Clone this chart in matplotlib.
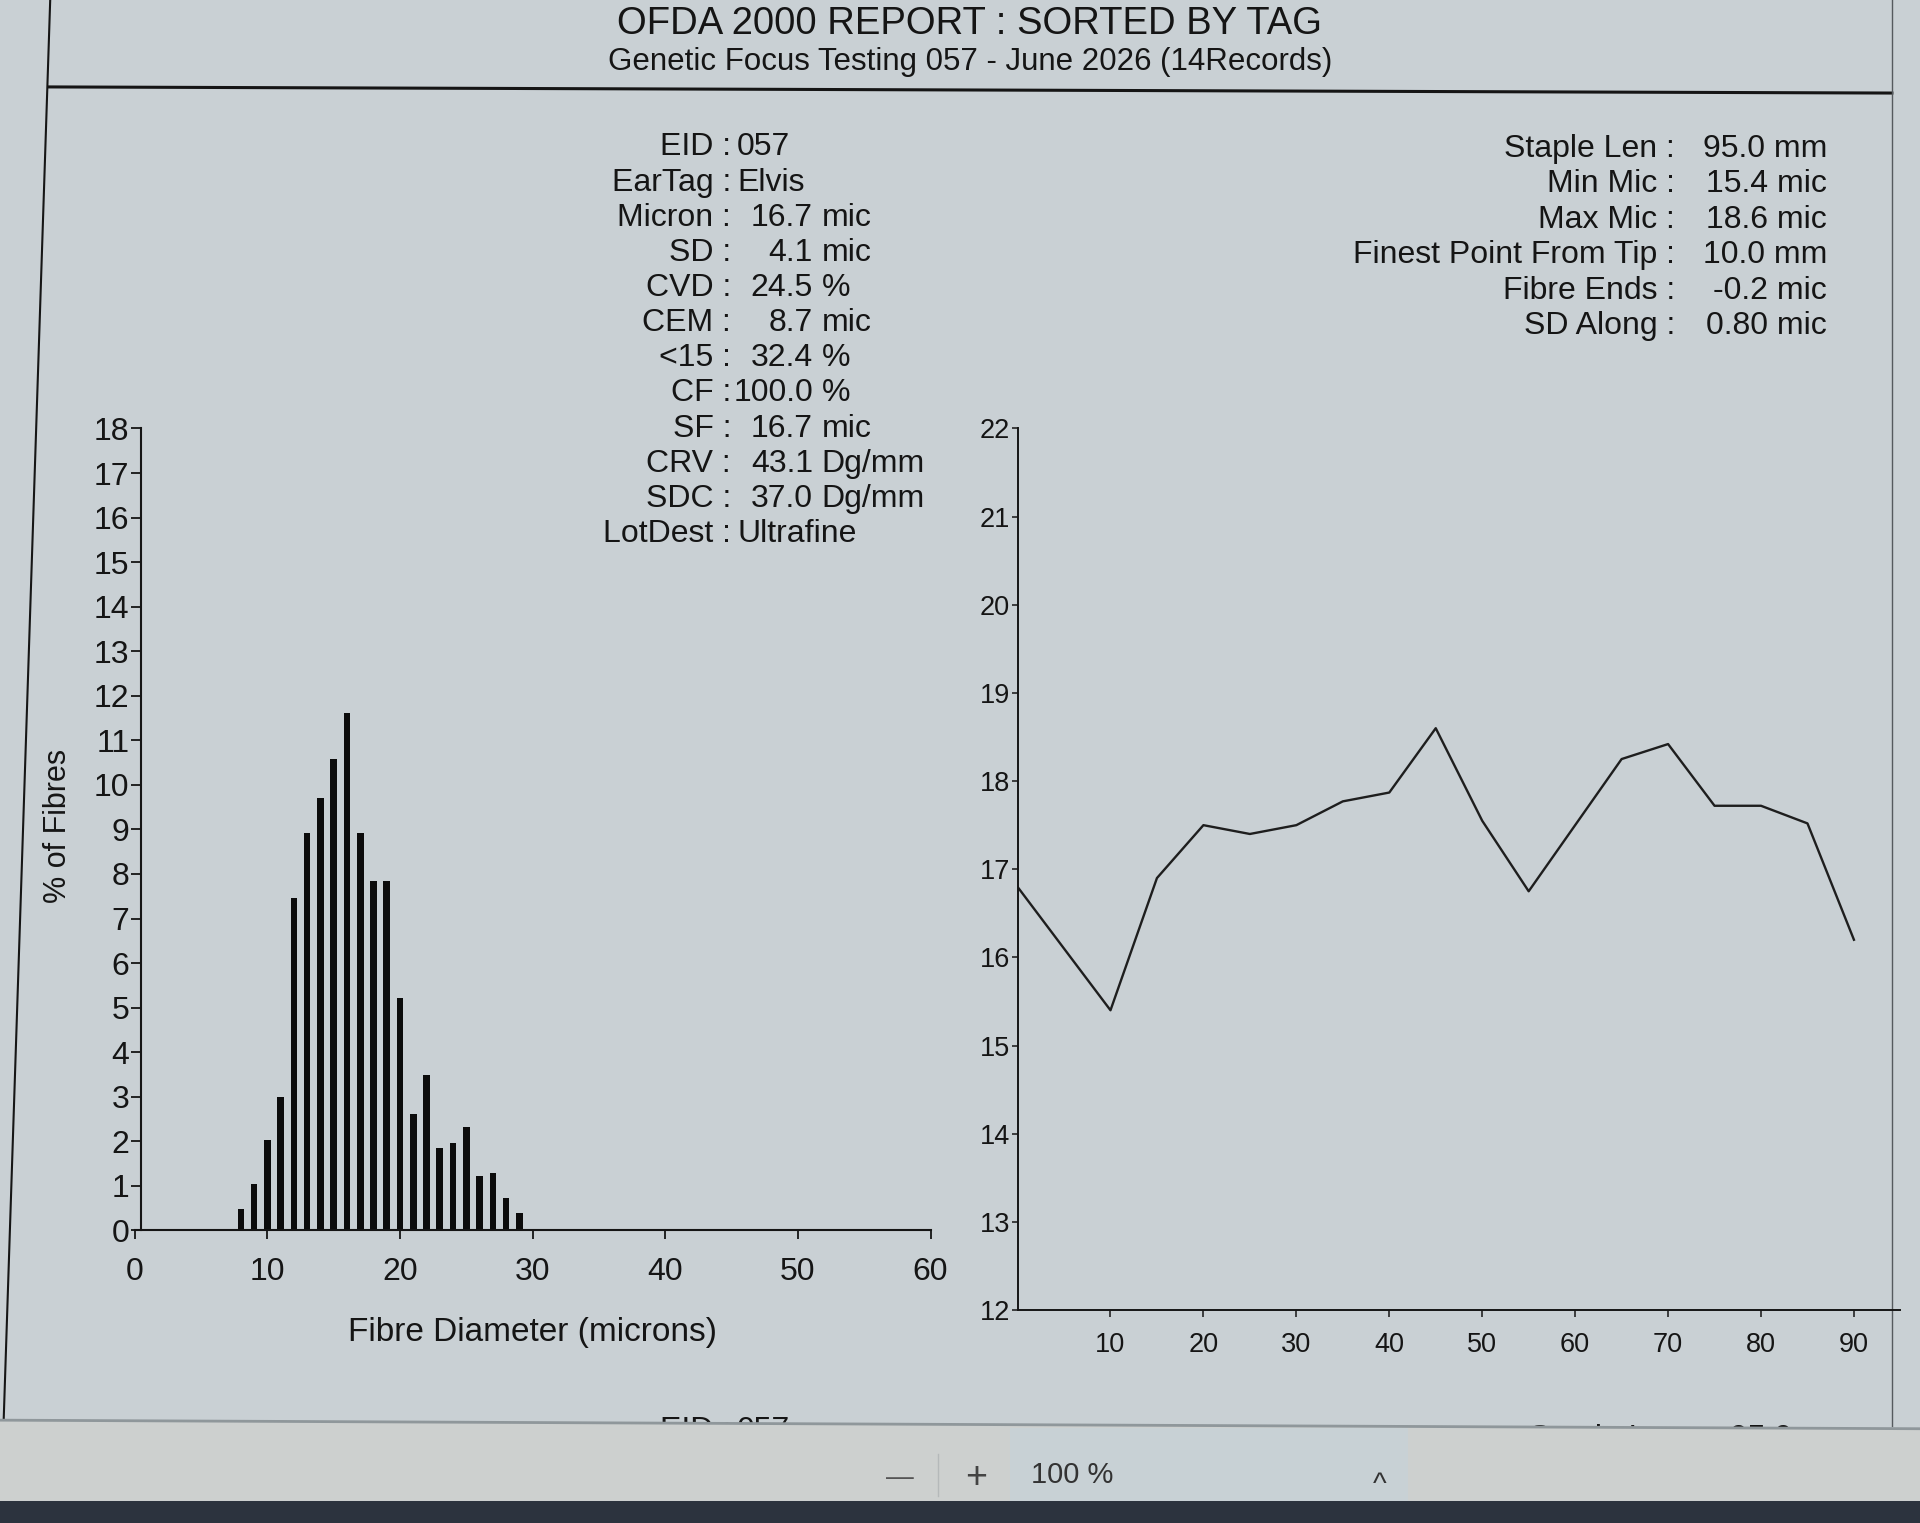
import matplotlib
matplotlib.use("Agg")
import matplotlib.pyplot as plt
from matplotlib.patches import Polygon, Rectangle

plt.rcParams['font.family'] = ['Liberation Sans', 'DejaVu Sans']

# fibre diameter histogram (microns -> % of fibres)
diam = [8, 9, 10, 11, 12, 13, 14, 15, 16, 17, 18, 19, 20, 21, 22, 23, 24, 25, 26, 27, 28, 29]
pct_fibres = [0.48, 1.05, 2.02, 3.0, 7.45, 8.91, 9.7, 10.58, 11.61, 8.91, 7.85,
              7.85, 5.21, 2.61, 3.48, 1.85, 1.96, 2.33, 1.21, 1.28, 0.72, 0.39]

# micron profile along the staple (mm from tip)
pos_mm = [0, 5, 10, 15, 20, 25, 30, 35, 40, 45, 50, 55, 60, 65, 70, 75, 80, 85, 90]
mic_along = [16.8, 16.1, 15.4, 16.9, 17.5, 17.4, 17.5, 17.77, 17.87, 18.6, 17.55,
             16.75, 17.5, 18.25, 18.42, 17.72, 17.72, 17.52, 16.2]

left_labels = ['EID', 'EarTag', 'Micron', 'SD', 'CVD', 'CEM', '<15', 'CF', 'SF', 'CRV', 'SDC', 'LotDest']
left_values = ['057', 'Elvis', '16.7', '4.1', '24.5', '8.7', '32.4', '100.0', '16.7', '43.1', '37.0', 'Ultrafine']
left_units = ['', '', 'mic', 'mic', '%', 'mic', '%', '%', 'mic', 'Dg/mm', 'Dg/mm', '']

right_labels = ['Staple Len', 'Min Mic', 'Max Mic', 'Finest Point From Tip', 'Fibre Ends', 'SD Along']
right_values = ['95.0 mm', '15.4 mic', '18.6 mic', '10.0 mm', '-0.2 mic', '0.80 mic']

hist_xticks = [0, 10, 20, 30, 40, 50, 60]
hist_yticks = list(range(0, 19))
prof_xticks = [10, 20, 30, 40, 50, 60, 70, 80, 90]
prof_yticks = list(range(12, 23))

title = 'OFDA 2000 REPORT : SORTED BY TAG'
subtitle = 'Genetic Focus Testing 057 - June 2026 (14Records)'

W, H = 1568.0, 1244.0   # layout units (scaled to output)
ink = '#151515'
page_col = '#c9d0d4'


def rect(l, t, r, b):
    return [l / W, 1 - b / H, (r - l) / W, (b - t) / H]


fig = plt.figure(figsize=(19.2, 15.23), dpi=100, facecolor=page_col)

page = fig.add_axes([0, 0, 1, 1])
page.set_xlim(0, W)
page.set_ylim(H, 0)
page.axis('off')

# header
page.text(792, 28, title, ha='center', va='baseline', fontsize=27.5, color=ink)
page.text(792, 57, subtitle, ha='center', va='baseline', fontsize=22.5, color=ink)
page.plot([40, 1545], [71, 76], color=ink, lw=2.2)
page.plot([41, 3], [0, 1160], color=ink, lw=1.5)
page.plot([1545, 1545], [0, 1165], color='#555a5e', lw=1.0)

# left info block
for i, (lab, val, unit) in enumerate(zip(left_labels, left_values, left_units)):
    yb = 127 + 28.7 * i
    page.text(597, yb, lab + ' :', ha='right', va='baseline', fontsize=23, color=ink)
    if unit:
        page.text(664, yb, val, ha='right', va='baseline', fontsize=23, color=ink)
        page.text(671, yb, unit, ha='left', va='baseline', fontsize=23, color=ink)
    else:
        page.text(602, yb, val, ha='left', va='baseline', fontsize=23, color=ink)

# right info block
for i, (lab, val) in enumerate(zip(right_labels, right_values)):
    yb = 128 + 29 * i
    page.text(1368, yb, lab + ' :', ha='right', va='baseline', fontsize=23, color=ink)
    page.text(1492, yb, val, ha='right', va='baseline', fontsize=23, color=ink)

# next page peeking under the toolbar
page.text(597, 1157, left_labels[0] + ' :', ha='right', va='top', fontsize=23, color=ink)
page.text(602, 1157, left_values[0], ha='left', va='top', fontsize=23, color=ink)
page.text(1388, 1163, right_labels[0] + ' :', ha='right', va='top', fontsize=23, color=ink)
page.text(1514, 1163, right_values[0], ha='right', va='top', fontsize=23, color=ink)

# viewer toolbar
page.add_patch(Polygon([[0, 1160], [W, 1167], [W, 1226], [0, 1226]], closed=True,
                       facecolor='#cdd0cf', edgecolor='none', zorder=5))
page.add_patch(Rectangle((825, 1166), 325, 60, facecolor='#c8d1d5', edgecolor='none', zorder=5))
page.plot([0, W], [1160, 1167], color='#8f979b', lw=2.0, zorder=6)
page.add_patch(Rectangle((0, 1226), W, H - 1226, facecolor='#2c333e', edgecolor='none', zorder=6))
page.text(735, 1207, '\u2014', ha='center', va='center', fontsize=20, color='#555', zorder=7)
page.plot([766, 766], [1188, 1222], color='#b5b9ba', lw=1.0, zorder=7)
page.text(797, 1207, '+', ha='center', va='center', fontsize=27, color='#444', zorder=7)
page.text(842, 1205, '100 %', ha='left', va='center', fontsize=21, color='#333', zorder=7)
page.text(1127, 1213, '^', ha='center', va='center', fontsize=21, color='#333', zorder=7)

# histogram
ax1 = fig.add_axes(rect(110, 350, 760, 1005))
ax1.patch.set_alpha(0)
ax1.bar(diam, pct_fibres, width=0.5, color='#0c0c0c')
ax1.set_xlim(0, 60)
ax1.set_ylim(0, 18)
ax1.spines['top'].set_visible(False)
ax1.spines['right'].set_visible(False)
ax1.spines['left'].set_position(('data', 0.5))
for s in ('left', 'bottom'):
    ax1.spines[s].set_linewidth(1.5)
    ax1.spines[s].set_color(ink)
ax1.set_xticks(hist_xticks)
ax1.set_yticks(hist_yticks)
ax1.tick_params(axis='x', length=6.5, width=1.3, pad=13, labelsize=23, colors=ink)
ax1.tick_params(axis='y', length=7, width=1.3, pad=1.5, labelsize=23, colors=ink)
ax1.set_xlabel('Fibre Diameter (microns)', fontsize=24, color=ink)
ax1.xaxis.set_label_coords(0.5, -0.108)
ax1.set_ylabel('% of Fibres', fontsize=22, color=ink)
ax1.yaxis.set_label_coords(-0.077, 0.504)

# micron profile along staple
ax2 = fig.add_axes(rect(831, 350, 1552, 1070))
ax2.patch.set_alpha(0)
ax2.plot(pos_mm, mic_along, color='#1e1e1e', lw=1.7)
ax2.set_xlim(0, 95)
ax2.set_ylim(12, 22)
ax2.spines['top'].set_visible(False)
ax2.spines['right'].set_visible(False)
for s in ('left', 'bottom'):
    ax2.spines[s].set_linewidth(1.4)
    ax2.spines[s].set_color(ink)
ax2.set_xticks(prof_xticks)
ax2.set_yticks(prof_yticks)
ax2.tick_params(axis='x', length=5, width=1.1, pad=11, labelsize=19.5, colors=ink)
ax2.tick_params(axis='y', length=4.5, width=1.1, pad=1, labelsize=19.5, colors=ink)

fig.savefig('out.png', dpi=100, facecolor=page_col)
